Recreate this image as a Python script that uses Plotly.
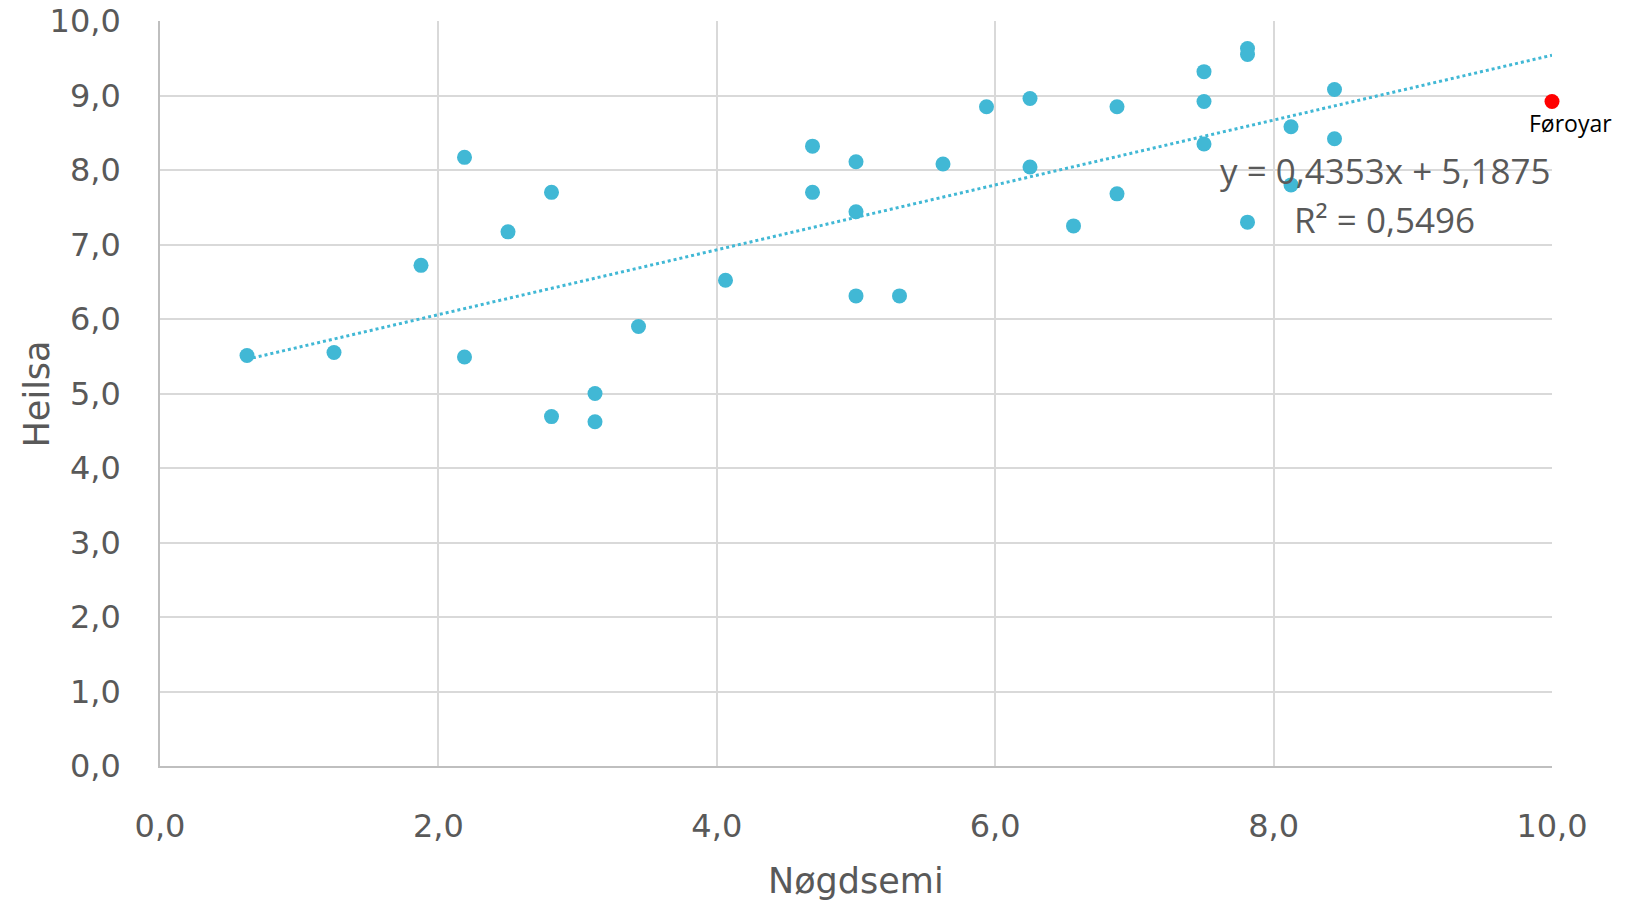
import plotly.graph_objects as go

# Data (Nøgdsemi = x, Heilsa = y)
x_vals = [0.625, 1.25, 1.875, 2.1875, 2.1875, 2.5, 2.8125, 2.8125, 3.125, 3.125,
          3.4375, 4.0625, 4.6875, 4.6875, 5.0, 5.0, 5.0, 5.3125, 5.625, 5.9375,
          6.25, 6.25, 6.5625, 6.875, 6.875, 7.5, 7.5, 7.5, 7.8125, 7.8125,
          7.8125, 8.125, 8.125, 8.4375, 8.4375]
y_vals = [5.51, 5.55, 6.72, 8.17, 5.49, 7.17, 7.70, 4.69, 5.00, 4.62,
          5.90, 6.52, 8.32, 7.70, 8.11, 7.44, 6.31, 6.31, 8.08, 8.85,
          8.96, 8.04, 7.25, 8.85, 7.68, 9.32, 8.92, 8.35, 9.63, 9.55,
          7.30, 8.58, 7.80, 9.08, 8.42]
faroe_x = [10.0]
faroe_y = [8.92]
faroe_label = "Føroyar"

slope = 0.4353
intercept = 5.1875
eq_text = "y = 0,4353x + 5,1875"
r2_text = "R² = 0,5496"

x_title = "Nøgdsemi"
y_title = "Heilsa"

teal = "#41b8d5"
gray = "#595959"
grid = "#d9d9d9"
tick_font = "DejaVu Sans"
eq_font = "Open Sans"

all_x = x_vals + faroe_x
tx = [min(all_x), max(all_x)]
ty = [slope * v + intercept for v in tx]

fig = go.Figure()
fig.add_trace(go.Scatter(x=tx, y=ty, mode="lines",
                         line=dict(color=teal, width=3, dash="dot"),
                         hoverinfo="skip", showlegend=False, cliponaxis=False))
fig.add_trace(go.Scatter(x=x_vals, y=y_vals, mode="markers",
                         marker=dict(color=teal, size=15),
                         showlegend=False, cliponaxis=False))
fig.add_trace(go.Scatter(x=faroe_x, y=faroe_y, mode="markers",
                         marker=dict(color="#ff0000", size=15),
                         showlegend=False, cliponaxis=False))

fig.add_annotation(x=faroe_x[0], y=faroe_y[0], text=faroe_label, showarrow=False,
                   xshift=18, yshift=-22, font=dict(family=eq_font, size=23, color="black"))
fig.add_annotation(x=8.8, y=8.0, text=eq_text, showarrow=False,
                   font=dict(family=eq_font, size=35, color=gray))
fig.add_annotation(x=8.8, y=7.34, text=r2_text, showarrow=False,
                   font=dict(family=eq_font, size=35, color=gray))

# axis titles
fig.add_annotation(xref="paper", yref="paper", x=-0.0884, y=0.5, text=y_title,
                   textangle=-90, showarrow=False, xanchor="center", yanchor="middle",
                   font=dict(family=tick_font, size=35, color=gray))
fig.add_annotation(xref="paper", yref="paper", x=0.5, y=-0.154, text=x_title,
                   showarrow=False, xanchor="center", yanchor="middle",
                   font=dict(family=tick_font, size=35, color=gray))

fig.update_layout(
    width=1645, height=906,
    margin=dict(l=160, r=93, t=21, b=140),
    paper_bgcolor="white", plot_bgcolor="white",
    separators=", ",
    font=dict(family=tick_font, color=gray),
)
fig.update_xaxes(range=[0, 10], dtick=2, tick0=0, tickformat=".1f", automargin=False,
                 showgrid=True, gridcolor=grid, gridwidth=1.5,
                 showline=True, linecolor="#bfbfbf", linewidth=1.5,
                 zeroline=False, ticks="", ticklabelstandoff=31,
                 tickfont=dict(family=tick_font, size=32, color=gray))
fig.update_yaxes(range=[0, 10], dtick=1, tick0=0, tickformat=".1f", automargin=False,
                 showgrid=True, gridcolor=grid, gridwidth=1.5,
                 showline=True, linecolor="#bfbfbf", linewidth=1.5,
                 zeroline=False, ticks="", ticklabelstandoff=31,
                 tickfont=dict(family=tick_font, size=32, color=gray))

fig.write_html("out.html",
               config={"displayModeBar": False},
               post_script="document.body.style.margin='0';document.body.style.padding='0';")
